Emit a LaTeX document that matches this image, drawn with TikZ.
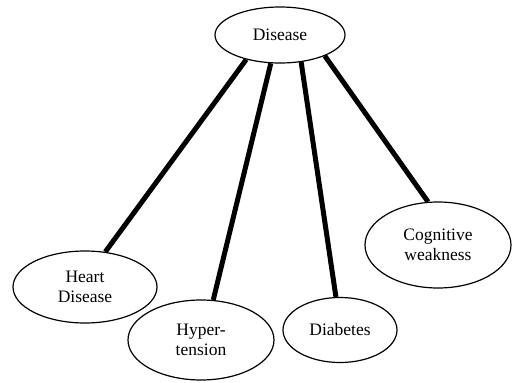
\documentclass[tikz,border=0pt]{standalone}
\usepackage{fontspec}
\setmainfont{Liberation Serif}
\usetikzlibrary{shapes.geometric}
\begin{document}
\begin{tikzpicture}[x=1pt, y=-1pt,
        oval/.style={ellipse, draw, line width=1.2pt, inner sep=0pt, align=center,
            font=\fontsize{17.5}{20.5}\selectfont},
        link/.style={line width=5pt}]
            \useasboundingbox (0,0) rectangle (512,383);
            % root
            \node[oval, minimum width=130pt, minimum height=56pt] (disease) at (280,35) {Disease};
            % children
            \node[oval, minimum width=144pt, minimum height=72pt] (heart) at (85,287) {Heart\\Disease};
            \node[oval, minimum width=146pt, minimum height=80pt] (hyper) at (201,340) {Hyper-\\tension};
            \node[oval, minimum width=114pt, minimum height=65pt] (diabetes) at (340,330) {Diabetes};
            \node[oval, minimum width=146pt, minimum height=86pt] (cognitive) at (438,245) {Cognitive\\weakness};
            % links
            \draw[link] (disease.216) -- (heart.60);
            \draw[link] (disease.252) -- (hyper.73);
            \draw[link] (disease.308) -- (diabetes.97);
            \draw[link] (disease.335) -- (cognitive.103);
        \end{tikzpicture}
\end{document}
